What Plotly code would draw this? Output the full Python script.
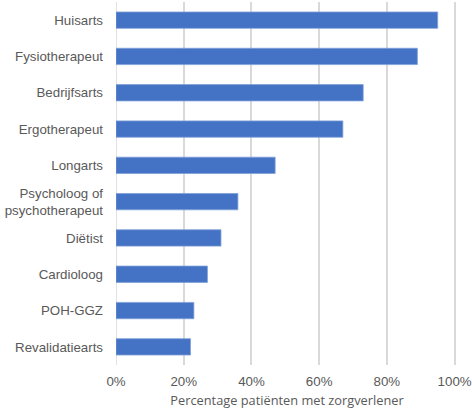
import plotly.graph_objects as go

categories = ["Huisarts", "Fysiotherapeut", "Bedrijfsarts", "Ergotherapeut", "Longarts",
              "Psycholoog of<br>psychotherapeut", "Diëtist", "Cardioloog", "POH-GGZ", "Revalidatiearts"]
values = [95, 89, 73, 67, 47, 36, 31, 27, 23, 22]
tick_vals = [0, 20, 40, 60, 80, 100]
tick_text = ["0%", "20%", "40%", "60%", "80%", "100%"]

fig = go.Figure(go.Bar(
    x=values, y=categories, orientation="h",
    marker=dict(color="#4472C4", line=dict(color="#7F9FD8", width=0.8)),
))
fig.update_layout(
    width=472, height=410,
    margin=dict(l=116, r=13.6, t=2, b=45),
    paper_bgcolor="white", plot_bgcolor="white",
    bargap=0.55,
    showlegend=False,
    font=dict(family="Liberation Sans, Arial", size=13.3, color="#595959"),
)
fig.update_xaxes(
    range=[0, 101], tickvals=tick_vals, ticktext=tick_text,
    showgrid=True, gridcolor="#D9D9D9", gridwidth=1.5,
    zeroline=False, showline=False, ticks="", automargin=False,
    ticklabelstandoff=7,
    title=dict(text="Percentage patiënten met zorgverlener",
               font=dict(family="Open Sans", size=12.8, color="#595959"), standoff=7),
    tickfont=dict(size=13.3),
)
fig.update_yaxes(
    autorange="reversed", ticks="", ticklabelstandoff=12, automargin=False,
    showline=False, showgrid=False,
    tickfont=dict(size=13.3),
)
fig.add_shape(type="line", xref="x", yref="paper", x0=0, x1=0, y0=0, y1=1,
              line=dict(color="#D9D9D9", width=1.5), layer="below")
fig.write_html("out.html", post_script="document.body.style.margin='0';",
               config={"displayModeBar": False})
